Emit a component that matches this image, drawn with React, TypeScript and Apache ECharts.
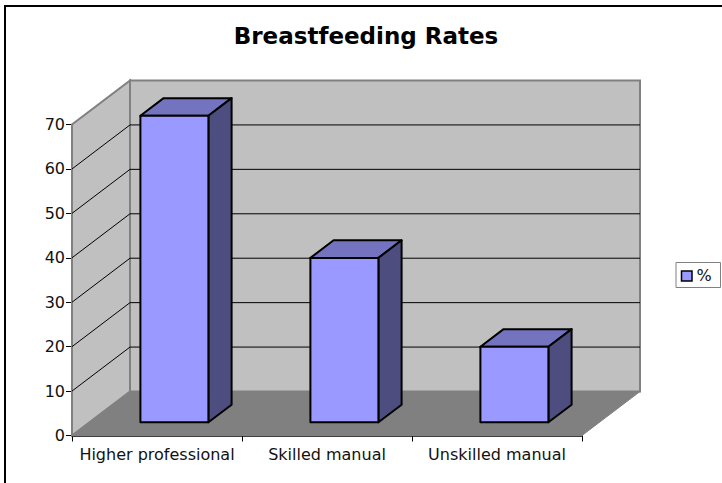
import React, { useEffect, useRef } from "react";
import * as echarts from "echarts";

const categories = ["Higher professional", "Skilled manual", "Unskilled manual"];
const percent = [69, 37, 17];
const yTicks = [0, 10, 20, 30, 40, 50, 60, 70];
const FONT = "'DejaVu Sans', sans-serif";
const DX = 58, DY = -44;

export default function App() {
  const ref = useRef<HTMLDivElement>(null);
  useEffect(() => {
    const chart = echarts.init(ref.current!, undefined, { renderer: "svg" });
    chart.setOption({
      animation: false,
      backgroundColor: "#fff",
      title: {
        text: "Breastfeeding Rates",
        left: 361, top: 19, textAlign: "center",
        textStyle: { fontFamily: FONT, fontSize: 23, fontWeight: "bold", color: "#000" },
      },
      grid: { left: 72, top: 124.5, width: 510, height: 311 },
      xAxis: {
        type: "category", data: categories,
        axisLine: { lineStyle: { color: "#000", width: 1.5 } },
        axisTick: { show: true, length: 6, lineStyle: { color: "#000" } },
        axisLabel: { color: "#111", fontFamily: FONT, fontSize: 16, margin: 11, interval: 0 },
      },
      yAxis: {
        type: "value", min: 0, max: 70, interval: 10,
        axisLine: { show: true, lineStyle: { color: "#000", width: 1.5 } },
        axisTick: { show: true, length: 6, lineStyle: { color: "#000" } },
        axisLabel: { color: "#111", fontFamily: FONT, fontSize: 16, margin: 7 },
        splitLine: { show: false },
      },
      series: [
        {
          type: "custom", name: "walls", silent: true, data: [0], z: 1,
          renderItem: (params: any, api: any) => {
            const g = params.coordSys;
            const x0 = g.x, x1 = g.x + g.width, yb = g.y + g.height, yt = g.y;
            const children: any[] = [
              { type: "polygon", shape: { points: [[x0, yb], [x0 + DX, yb + DY], [x0 + DX, yt + DY], [x0, yt]] }, style: { fill: "#C0C0C0", stroke: "#808080", lineWidth: 2 } },
              { type: "rect", shape: { x: x0 + DX, y: yt + DY, width: g.width, height: g.height }, style: { fill: "#C0C0C0", stroke: "#808080", lineWidth: 2 } },
              { type: "polygon", shape: { points: [[x0, yb], [x1, yb], [x1 + DX, yb + DY], [x0 + DX, yb + DY]] }, style: { fill: "#808080", stroke: "#808080", lineWidth: 1 } },
            ];
            yTicks.slice(1, -1).forEach((v) => {
              const y = api.coord([0, v])[1];
              children.push({
                type: "polyline",
                shape: { points: [[x0, y], [x0 + DX, y + DY], [x1 + DX, y + DY]] },
                style: { fill: "none", stroke: "#000", lineWidth: 1 },
              });
            });
            return { type: "group", children };
          },
        },
        {
          type: "custom", name: "%", data: percent.map((v, i) => [i, v]), z: 2,
          encode: { x: 0, y: 1 }, itemStyle: { color: "#9999FF" },
          renderItem: (_: any, api: any) => {
            const cat = api.value(0), val = api.value(1);
            const band = api.size([1, 0])[0];
            const w = band * 0.4;
            const ox = 0.3 * DX, oy = 0.3 * DY;
            const dx = 0.4 * DX, dy = 0.4 * DY;
            const cx = api.coord([cat, 0])[0] + ox;
            const yb = api.coord([cat, 0])[1] + oy;
            const yt = api.coord([cat, val])[1] + oy;
            const l = cx - w / 2, r = cx + w / 2;
            const stroke = { stroke: "#000", lineWidth: 2, lineJoin: "round" };
            return {
              type: "group",
              children: [
                { type: "polygon", shape: { points: [[l, yt], [r, yt], [r + dx, yt + dy], [l + dx, yt + dy]] }, style: { fill: "#7373BF", ...stroke } },
                { type: "polygon", shape: { points: [[r, yt], [r + dx, yt + dy], [r + dx, yb + dy], [r, yb]] }, style: { fill: "#4D4D80", ...stroke } },
                { type: "rect", shape: { x: l, y: yt, width: w, height: yb - yt }, style: { fill: "#9999FF", ...stroke } },
              ],
            };
          },
        },
      ],
      graphic: [
        { type: "rect", shape: { x: 5, y: 6, width: 740, height: 500 }, style: { fill: "none", stroke: "#000", lineWidth: 2 }, z: 10 },
        { type: "rect", shape: { x: 676, y: 262.5, width: 44.5, height: 25 }, style: { fill: "#fff", stroke: "#808080", lineWidth: 1 }, z: 10 },
        { type: "rect", shape: { x: 681.5, y: 271, width: 10.5, height: 10 }, style: { fill: "#9999FF", stroke: "#000", lineWidth: 1.5 }, z: 11 },
        { type: "text", x: 696.5, y: 267, style: { text: "%", font: `16px ${FONT}`, fill: "#111" }, z: 11 },
      ],
    });
    return () => chart.dispose();
  }, []);
  return <div ref={ref} style={{ position: "absolute", left: 0, top: 0, width: 722, height: 483 }} />;
}
